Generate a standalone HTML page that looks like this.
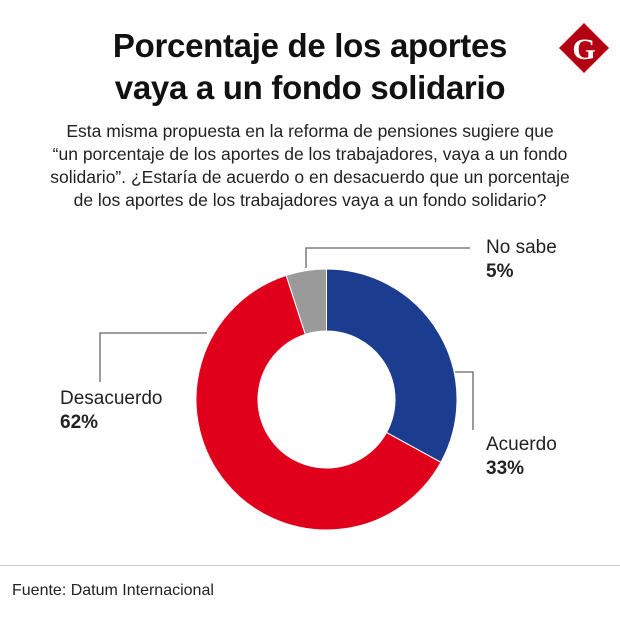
<!DOCTYPE html>
<html><head><meta charset="utf-8"><style>
body{margin:0;width:620px;height:628px;background:#fff;font-family:"Liberation Sans",sans-serif;position:relative;overflow:hidden}
.t{position:absolute;left:0;width:620px;text-align:center;font-weight:bold;font-size:33px;line-height:42px;color:#111;letter-spacing:-0.3px}
.sub{position:absolute;left:0;width:620px;top:120px;text-align:center;font-size:17.5px;line-height:23px;color:#222;white-space:nowrap}
.lab{position:absolute;font-size:19px;line-height:24px;color:#222}
.lab b{font-weight:bold}
.src{position:absolute;left:12px;top:582px;font-size:16px;color:#222}
</style></head><body>
<div class="t" style="top:25px;left:0px">Porcentaje de los aportes<br>vaya a un fondo solidario</div>
<svg style="position:absolute;left:556px;top:20px" width="56" height="56" viewBox="0 0 56 56"><polygon points="28,3 53,28 28,53 3,28" fill="#b30012"/><text x="28" y="39" text-anchor="middle" font-family="Liberation Serif,serif" font-weight="bold" font-size="30" fill="#fff">G</text></svg>
<div class="sub">Esta misma propuesta en la reforma de pensiones sugiere que<br>“un porcentaje de los aportes de los trabajadores, vaya a un fondo<br>solidario”. ¿Estaría de acuerdo o en desacuerdo que un porcentaje<br>de los aportes de los trabajadores vaya a un fondo solidario?</div>
<svg id="c" style="position:absolute;left:0;top:0" width="620" height="628">
<g id="slices"></g>
<polyline points="306,268 306,248 470,248" fill="none" stroke="#666" stroke-width="1.3"/>
<polyline points="455,372 473,372 473,430" fill="none" stroke="#666" stroke-width="1.3"/>
<polyline points="207,333 100,333 100,382" fill="none" stroke="#666" stroke-width="1.3"/>
</svg>
<div class="lab" style="left:486px;top:236px">No sabe<br><b>5%</b></div>
<div class="lab" style="left:486px;top:433px">Acuerdo<br><b>33%</b></div>
<div class="lab" style="left:60px;top:387px">Desacuerdo<br><b>62%</b></div>
<div style="position:absolute;left:0;top:565px;width:620px;height:1px;background:#ccc"></div>
<div class="src">Fuente: Datum Internacional</div>
<script>
const categories=["Acuerdo","Desacuerdo","No sabe"];
const values=[33,62,5];
const colors=["#1c3d8f","#e0001b","#9a9a9a"];
const cx=326.5,cy=399.5,R=130.5,r=68.5;
const g=document.getElementById('slices');
const total=values.reduce((a,b)=>a+b,0);
let a0=0;
function pt(rad,a){return [cx+rad*Math.sin(a),cy-rad*Math.cos(a)];}
values.forEach((v,i)=>{
  const a1=a0+v/total*2*Math.PI;
  const lg=(a1-a0)>Math.PI?1:0;
  const p1=pt(R,a0),p2=pt(R,a1),p3=pt(r,a1),p4=pt(r,a0);
  const p=document.createElementNS('http://www.w3.org/2000/svg','path');
  p.setAttribute('d',`M${p1}A${R},${R} 0 ${lg} 1 ${p2}L${p3}A${r},${r} 0 ${lg} 0 ${p4}Z`);
  p.setAttribute('fill',colors[i]);
  p.setAttribute('stroke','#fff');
  p.setAttribute('stroke-width','1');
  
  
  g.appendChild(p);
  a0=a1;
});
</script>
</body></html>
